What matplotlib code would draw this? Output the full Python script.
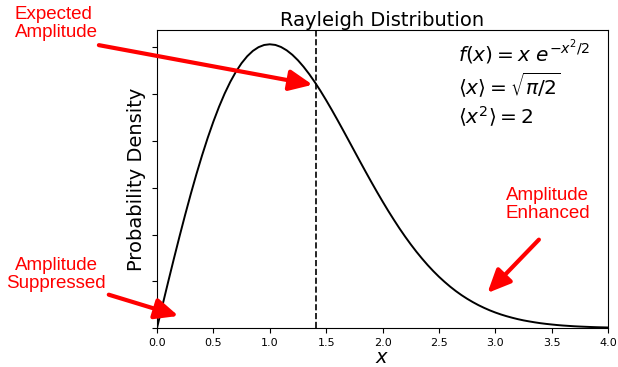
import matplotlib
matplotlib.use("Agg")
import matplotlib.pyplot as plt

# sampled density values, step 0.05 from 0 to 4
x_vals = [0.00, 0.05, 0.10, 0.15, 0.20, 0.25, 0.30, 0.35, 0.40, 0.45,
          0.50, 0.55, 0.60, 0.65, 0.70, 0.75, 0.80, 0.85, 0.90, 0.95,
          1.00, 1.05, 1.10, 1.15, 1.20, 1.25, 1.30, 1.35, 1.40, 1.45,
          1.50, 1.55, 1.60, 1.65, 1.70, 1.75, 1.80, 1.85, 1.90, 1.95,
          2.00, 2.05, 2.10, 2.15, 2.20, 2.25, 2.30, 2.35, 2.40, 2.45,
          2.50, 2.55, 2.60, 2.65, 2.70, 2.75, 2.80, 2.85, 2.90, 2.95,
          3.00, 3.05, 3.10, 3.15, 3.20, 3.25, 3.30, 3.35, 3.40, 3.45,
          3.50, 3.55, 3.60, 3.65, 3.70, 3.75, 3.80, 3.85, 3.90, 3.95,
          4.00]
density = [0.0000, 0.0499, 0.0995, 0.1483, 0.1960, 0.2423, 0.2868, 0.3292, 0.3692, 0.4067,
           0.4412, 0.4728, 0.5012, 0.5262, 0.5479, 0.5661, 0.5809, 0.5923, 0.6003, 0.6050,
           0.6065, 0.6051, 0.6007, 0.5936, 0.5841, 0.5723, 0.5584, 0.5427, 0.5254, 0.5068,
           0.4870, 0.4663, 0.4449, 0.4230, 0.4008, 0.3785, 0.3562, 0.3342, 0.3125, 0.2913,
           0.2707, 0.2507, 0.2316, 0.2131, 0.1956, 0.1790, 0.1633, 0.1486, 0.1347, 0.1218,
           0.1098, 0.0988, 0.0885, 0.0791, 0.0705, 0.0627, 0.0556, 0.0491, 0.0433, 0.0380,
           0.0333, 0.0291, 0.0254, 0.0221, 0.0191, 0.0165, 0.0143, 0.0123, 0.0105, 0.0090,
           0.0077, 0.0065, 0.0055, 0.0047, 0.0039, 0.0033, 0.0028, 0.0023, 0.0019, 0.0016,
           0.0013]
x_marker = 1.414          # sqrt(2)
x_ticks = [0.0, 0.5, 1.0, 1.5, 2.0, 2.5, 3.0, 3.5, 4.0]
y_ticks = [0.0, 0.1, 0.2, 0.3, 0.4, 0.5, 0.6]

fig = plt.figure(figsize=(6.18, 3.67), dpi=100)
ax = fig.add_axes([0.254, 0.106, 0.730, 0.812])

ax.plot(x_vals, density, color="black", lw=1.4)
ax.axvline(x_marker, color="black", ls="--", lw=1.2)

ax.set_xlim(0, 4)
ax.set_ylim(0, max(density) * 1.05)
ax.set_xticks(x_ticks)
ax.set_xticklabels(["%.1f" % t for t in x_ticks], fontsize=8)
ax.set_yticks(y_ticks)
ax.set_yticklabels([])

ax.set_title("Rayleigh Distribution", fontsize=14, pad=3)
ax.set_ylabel("Probability Density", fontsize=14, labelpad=1)
ax.set_xlabel("$x$", fontsize=14, labelpad=0)

ax.text(0.667, 0.895, r"$f(x) = x\ e^{-x^2/2}$", transform=ax.transAxes, fontsize=14.5)
ax.text(0.667, 0.785, r"$\langle x \rangle = \sqrt{\pi/2}$", transform=ax.transAxes, fontsize=14.5)
ax.text(0.667, 0.685, r"$\langle x^2 \rangle = 2$", transform=ax.transAxes, fontsize=14.5)

red_font = dict(color="red", fontsize=13.5, family=["Liberation Sans", "DejaVu Sans"],
                linespacing=1.1)
fig.text(0.024, 0.985, "Expected\nAmplitude", ha="left", va="top", **red_font)
fig.text(0.091, 0.300, "Amplitude\nSuppressed", ha="center", va="top", **red_font)
fig.text(0.886, 0.490, "Amplitude\nEnhanced", ha="center", va="top", **red_font)

arrow = dict(arrowstyle="-|>,head_length=1.0,head_width=0.45", color="red", lw=3,
             mutation_scale=14, shrinkA=0, shrinkB=0)
ax.annotate("", xy=(1.38, 0.52), xycoords="data",
            xytext=(0.160, 0.877), textcoords="figure fraction",
            arrowprops=arrow, annotation_clip=False)
ax.annotate("", xy=(0.19, 0.026), xycoords="data",
            xytext=(0.176, 0.197), textcoords="figure fraction",
            arrowprops=arrow, annotation_clip=False)
ax.annotate("", xy=(2.93, 0.075), xycoords="data",
            xytext=(0.872, 0.347), textcoords="figure fraction",
            arrowprops=arrow, annotation_clip=False)

fig.savefig("out.png", dpi=100)
